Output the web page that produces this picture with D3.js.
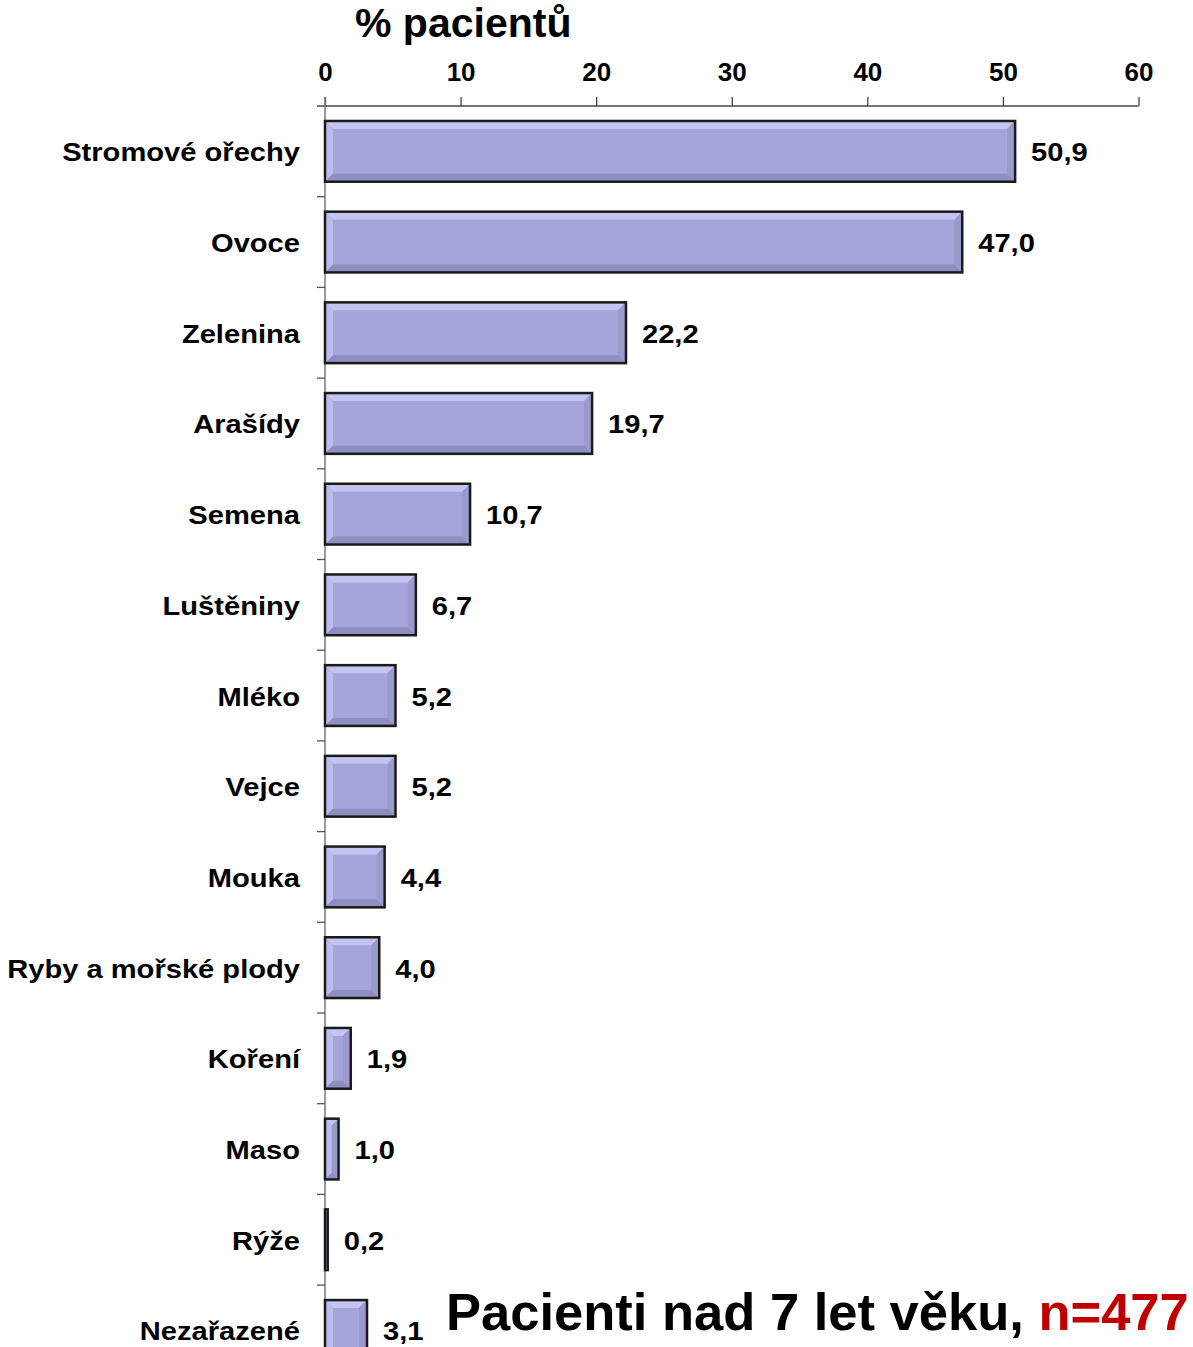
<!DOCTYPE html>
<html>
<head>
<meta charset="utf-8">
<script src="https://cdn.jsdelivr.net/npm/d3@7"></script>
<style>
  html, body { margin: 0; padding: 0; background: #fff; }
  svg { display: block; font-family: "Liberation Sans", Arial, sans-serif; font-weight: bold; }
</style>
</head>
<body>
<svg id="chart" width="1193" height="1347"></svg>
<script>
// Food allergen categories and share of patients (%)
const categories = [
  "Stromové ořechy", "Ovoce", "Zelenina", "Arašídy", "Semena", "Luštěniny",
  "Mléko", "Vejce", "Mouka", "Ryby a mořské plody", "Koření", "Maso", "Rýže", "Nezařazené"
];
const values = [50.9, 47.0, 22.2, 19.7, 10.7, 6.7, 5.2, 5.2, 4.4, 4.0, 1.9, 1.0, 0.2, 3.1];
const valueLabels = ["50,9", "47,0", "22,2", "19,7", "10,7", "6,7", "5,2", "5,2", "4,4", "4,0", "1,9", "1,0", "0,2", "3,1"];
const xTicks = [0, 10, 20, 30, 40, 50, 60];

const svg = d3.select("#chart");
const W = 1193, H = 1347;
const stretch = 1.12; // wide set of the label lettering

const x = d3.scaleLinear().domain([0, 60]).range([325, 1138.5]);
const y = d3.scaleBand()
  .domain(categories)
  .range([106, 106 + categories.length * 90.7])
  .paddingInner(0.33)
  .paddingOuter(0.165);

const step = y.step();
const gap = step * 0.33;

// Title
svg.append("text")
  .attr("x", 355).attr("y", 37)
  .attr("font-size", 41)
  .attr("fill", "#000")
  .text("% pacientů");

// Top axis
const xAxis = d3.axisTop(x).tickValues(xTicks).tickSize(9).tickPadding(0).tickFormat(d3.format("d"));
const gx = svg.append("g").attr("transform", "translate(0,106)").call(xAxis);
gx.select(".domain").remove();
gx.selectAll(".tick line").attr("stroke", "#444").attr("stroke-width", 1.3);
gx.selectAll(".tick text")
  .attr("y", -25)
  .attr("font-size", 26)
  .attr("font-family", "Liberation Sans, Arial, sans-serif")
  .attr("font-weight", "bold")
  .attr("fill", "#000");
svg.append("line")
  .attr("x1", 317).attr("x2", x(60))
  .attr("y1", 106).attr("y2", 106)
  .attr("stroke", "#444").attr("stroke-width", 1.3);

// Vertical category axis with boundary ticks
svg.append("line")
  .attr("x1", x(0)).attr("x2", x(0))
  .attr("y1", 97).attr("y2", H)
  .attr("stroke", "#777").attr("stroke-width", 1.5);
svg.append("g").selectAll("line")
  .data(categories.slice(1))
  .join("line")
  .attr("x1", 317).attr("x2", x(0))
  .attr("y1", d => y(d) - gap / 2)
  .attr("y2", d => y(d) - gap / 2)
  .attr("stroke", "#555").attr("stroke-width", 1.3);

// Bars with bevelled edges
const main = "#A5A5DB", light = "#C4C4F2", lighter = "#BCBCEC", dark = "#8E8EC0", darker = "#9A9ACC";
const bars = svg.append("g").selectAll("g")
  .data(categories.map((c, i) => ({ c, v: values[i], label: valueLabels[i] })))
  .join("g");

bars.each(function (d) {
  const g = d3.select(this);
  const x0 = x(0), x1 = x(d.v), y0 = y(d.c), y1 = y0 + y.bandwidth();
  const w = x1 - x0, h = y1 - y0;
  const b = Math.min(8, w / 2, h / 2);
  g.append("rect").attr("x", x0).attr("y", y0).attr("width", w).attr("height", h).attr("fill", main);
  if (w > 2) {
    const poly = pts => g.append("polygon").attr("points", pts.map(p => p.join(",")).join(" "));
    poly([[x0, y0], [x1, y0], [x1 - b, y0 + b], [x0 + b, y0 + b]]).attr("fill", light);
    poly([[x0, y0], [x0 + b, y0 + b], [x0 + b, y1 - b], [x0, y1]]).attr("fill", lighter);
    poly([[x1, y0], [x1, y1], [x1 - b, y1 - b], [x1 - b, y0 + b]]).attr("fill", darker);
    poly([[x0, y1], [x0 + b, y1 - b], [x1 - b, y1 - b], [x1, y1]]).attr("fill", dark);
  }
  g.append("rect").attr("x", x0).attr("y", y0).attr("width", w).attr("height", h)
    .attr("fill", "none").attr("stroke", "#1a1a1a").attr("stroke-width", 2.5);
});

// Value labels
bars.append("text")
  .attr("transform", d => `translate(${x(d.v) + 16},${y(d.c) + y.bandwidth() / 2 + 10}) scale(${stretch},1)`)
  .attr("font-size", 26)
  .attr("fill", "#000")
  .text(d => d.label);

// Category labels
svg.append("g").selectAll("text")
  .data(categories)
  .join("text")
  .attr("transform", d => `translate(300,${y(d) + y.bandwidth() / 2 + 10}) scale(${stretch},1)`)
  .attr("text-anchor", "end")
  .attr("font-size", 26)
  .attr("fill", "#000")
  .text(d => d);

// Sample note
const note = svg.append("text")
  .attr("transform", "translate(446,1330) scale(1.01,1)")
  .attr("font-size", 52)
  .attr("fill", "#000");
note.append("tspan").text("Pacienti nad 7 let věku, ");
note.append("tspan").attr("fill", "#C00000").text("n=477");
</script>
</body>
</html>
